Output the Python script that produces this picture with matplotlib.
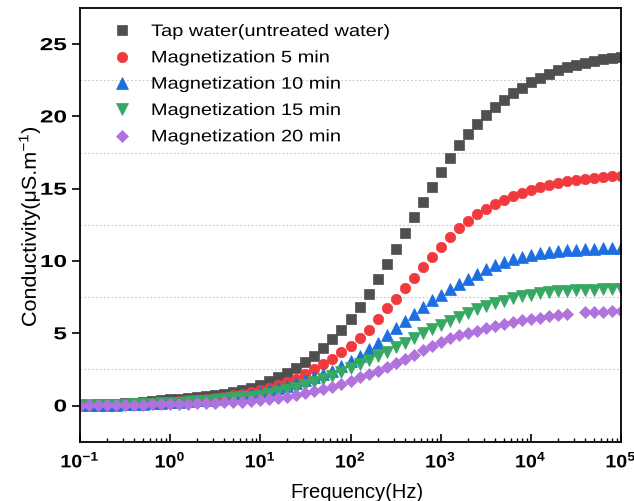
import numpy as np
import matplotlib
matplotlib.use("Agg")
import matplotlib.pyplot as plt
from matplotlib.ticker import FixedLocator, FixedFormatter, LogLocator, NullFormatter
from matplotlib.patheffects import AbstractPathEffect
from matplotlib.transforms import Affine2D

plt.rcParams['font.family'] = ['Liberation Sans', 'DejaVu Sans']
plt.rcParams['mathtext.fontset'] = 'custom'
plt.rcParams['mathtext.rm'] = 'Liberation Sans'
plt.rcParams['mathtext.it'] = 'Liberation Sans:italic'
plt.rcParams['mathtext.bf'] = 'Liberation Sans:bold'

# log10 of frequency (Hz)
log_freq = [-1.0, -0.9, -0.8, -0.7, -0.6, -0.5, -0.4, -0.3, -0.2, -0.1,
            0.0, 0.1, 0.2, 0.3, 0.4, 0.5, 0.6, 0.7, 0.8, 0.9,
            1.0, 1.1, 1.2, 1.3, 1.4, 1.5, 1.6, 1.7, 1.8, 1.9,
            2.0, 2.1, 2.2, 2.3, 2.4, 2.5, 2.6, 2.7, 2.8, 2.9,
            3.0, 3.1, 3.2, 3.3, 3.4, 3.5, 3.6, 3.7, 3.8, 3.9,
            4.0, 4.1, 4.2, 4.3, 4.4, 4.5, 4.6, 4.7, 4.8, 4.9,
            5.0]

tap_water = [0.05, 0.07, 0.09, 0.11, 0.14, 0.17, 0.21, 0.25, 0.30, 0.36,
             0.42, 0.47, 0.52, 0.58, 0.65, 0.73, 0.82, 0.93, 1.05, 1.23,
             1.45, 1.69, 1.96, 2.26, 2.61, 3.00, 3.46, 4.00, 4.60, 5.22,
             6.00, 6.85, 7.75, 8.75, 9.80, 10.85, 11.95, 13.05, 14.10, 15.15,
             16.15, 17.10, 18.00, 18.80, 19.50, 20.10, 20.66, 21.17, 21.63, 22.00,
             22.35, 22.67, 22.95, 23.20, 23.41, 23.58, 23.73, 23.85, 23.95, 24.02,
             24.08]

mag_5 = [0.04, 0.05, 0.06, 0.07, 0.09, 0.11, 0.13, 0.16, 0.19, 0.22,
         0.26, 0.30, 0.35, 0.40, 0.46, 0.53, 0.61, 0.70, 0.80, 0.93,
         1.09, 1.23, 1.39, 1.62, 1.85, 2.15, 2.50, 2.85, 3.23, 3.70,
         4.10, 4.65, 5.25, 5.98, 6.72, 7.39, 8.10, 8.80, 9.55, 10.28,
         11.00, 11.65, 12.25, 12.77, 13.22, 13.62, 13.96, 14.25, 14.50, 14.73,
         14.94, 15.12, 15.28, 15.42, 15.54, 15.63, 15.70, 15.77, 15.82, 15.86,
         15.89]

mag_10 = [0.03, 0.04, 0.05, 0.06, 0.07, 0.09, 0.11, 0.13, 0.16, 0.19,
          0.22, 0.26, 0.30, 0.35, 0.40, 0.46, 0.53, 0.61, 0.70, 0.80,
          0.92, 1.05, 1.20, 1.37, 1.55, 1.75, 1.95, 2.17, 2.42, 2.72,
          3.07, 3.46, 3.88, 4.34, 4.85, 5.36, 5.85, 6.35, 6.81, 7.27,
          7.68, 8.07, 8.43, 8.77, 9.12, 9.42, 9.70, 9.93, 10.11, 10.28,
          10.44, 10.55, 10.62, 10.69, 10.73, 10.78, 10.80, 10.85, 10.87, 10.90,
          10.92]

mag_15 = [0.02, 0.03, 0.04, 0.05, 0.06, 0.07, 0.09, 0.11, 0.13, 0.15,
          0.18, 0.21, 0.25, 0.29, 0.33, 0.38, 0.44, 0.50, 0.56, 0.62,
          0.69, 0.80, 0.93, 1.07, 1.22, 1.40, 1.60, 1.82, 2.06, 2.32,
          2.60, 2.88, 3.15, 3.43, 3.72, 4.04, 4.36, 4.68, 5.00, 5.30,
          5.60, 5.88, 6.14, 6.40, 6.65, 6.88, 7.08, 7.26, 7.42, 7.56,
          7.67, 7.76, 7.84, 7.90, 7.95, 7.98, 8.00, 8.02, 8.03, 8.04,
          8.05]

mag_20 = [0.00, 0.01, 0.02, 0.03, 0.04, 0.05, 0.06, 0.07, 0.08, 0.09,
          0.10, 0.11, 0.13, 0.15, 0.17, 0.19, 0.22, 0.25, 0.28, 0.32,
          0.38, 0.45, 0.53, 0.62, 0.72, 0.84, 0.98, 1.13, 1.30, 1.50,
          1.72, 1.95, 2.18, 2.42, 2.68, 2.94, 3.23, 3.51, 3.81, 4.11,
          4.39, 4.64, 4.86, 5.05, 5.19, 5.36, 5.50, 5.64, 5.77, 5.89,
          6.00, 6.07, 6.19, 6.28, 6.35, np.nan, 6.47, 6.49, 6.50, 6.51,
          6.52]

series_labels = ["Tap water(untreated water)", "Magnetization 5 min",
                 "Magnetization 10 min", "Magnetization 15 min",
                 "Magnetization 20 min"]
series_values = [tap_water, mag_5, mag_10, mag_15, mag_20]
colors = ["#4f4f4f", "#f03a3e", "#1c6fe0", "#37a862", "#b073de"]
markers = ["s", "o", "^", "v", "D"]
msizes = [6.5, 7.5, 8.0, 8.0, 6.3]

xtick_vals = [1e-1, 1e0, 1e1, 1e2, 1e3, 1e4, 1e5]
xtick_labels = [r'$\mathbf{10^{-1}}$', r'$\mathbf{10^{0}}$', r'$\mathbf{10^{1}}$',
                r'$\mathbf{10^{2}}$', r'$\mathbf{10^{3}}$', r'$\mathbf{10^{4}}$',
                r'$\mathbf{10^{5}}$']
ytick_vals = [0, 5, 10, 15, 20, 25]
ygrid_vals = [2.5, 7.5, 12.5, 17.5, 22.5]


class Stretch(AbstractPathEffect):
    """Widen glyphs horizontally (along the baseline), keeping an anchor fixed."""
    def __init__(self, sx, anchor='left'):
        super().__init__()
        self.sx = sx
        self.anchor = anchor

    def draw_path(self, renderer, gc, tpath, affine, rgbFace=None):
        ext = tpath.get_extents()
        if self.anchor == 'left':
            x0 = ext.x0
        elif self.anchor == 'right':
            x0 = ext.x1
        else:
            x0 = 0.5 * (ext.x0 + ext.x1)
        t = Affine2D().translate(-x0, 0).scale(self.sx, 1.0).translate(x0, 0) + affine
        renderer.draw_path(gc, tpath, t, rgbFace)


freq = 10.0 ** np.array(log_freq)

fig = plt.figure(figsize=(6.34, 5.02), dpi=100)
ax = fig.add_axes([80/634, 1-442.7/502, 541/634, 433.7/502])

for vals, lab, c, m, ms in zip(series_values, series_labels, colors, markers, msizes):
    ax.plot(freq, vals, linestyle='none', marker=m, markersize=ms,
            color=c, markeredgecolor=c, markeredgewidth=0.5, label=lab)

ax.set_xscale('log')
ax.set_xlim(1e-1, 1e5)
ax.set_ylim(-2.5, 27.5)

ax.xaxis.set_major_locator(FixedLocator(xtick_vals))
ax.xaxis.set_major_formatter(FixedFormatter(xtick_labels))
ax.xaxis.set_minor_locator(LogLocator(base=10, subs=np.arange(2, 10), numticks=20))
ax.xaxis.set_minor_formatter(NullFormatter())

ax.yaxis.set_major_locator(FixedLocator(ytick_vals))
ax.yaxis.set_minor_locator(FixedLocator(ygrid_vals))
ax.grid(True, which='minor', axis='y', linestyle=(0, (1.5, 2.0)),
        color='#c4c4c4', linewidth=0.8)
ax.grid(False, which='major')

ax.tick_params(axis='x', which='major', direction='in', length=6, width=1.2,
               labelsize=13, pad=7, top=False)
ax.tick_params(axis='x', which='minor', direction='in', length=3.2, width=1.0, top=False)
ax.tick_params(axis='y', which='major', direction='out', length=5.5, width=1.2,
               labelsize=12.5, pad=4, right=False)
ax.tick_params(axis='y', which='minor', length=0, right=False, left=False)

for sp in ax.spines.values():
    sp.set_linewidth(1.3)

xl = ax.set_xlabel("Frequency(Hz)", fontsize=14.5)
yl = ax.set_ylabel("Conductivity(μS.m$^{-1}$)", fontsize=14.5)
ax.yaxis.set_label_coords(-0.07, 0.496)
ax.xaxis.set_label_coords(0.512, -0.092)
yl.set_path_effects([Stretch(1.07, 'center')])

leg = ax.legend(loc='upper left', bbox_to_anchor=(29.5/541, 1-16.0/433.7),
                frameon=False, fontsize=12, handlelength=1.5, handletextpad=1.0,
                borderaxespad=0, borderpad=0, labelspacing=0.68)
for t in leg.get_texts():
    t.set_path_effects([Stretch(1.2, 'left')])

fig.canvas.draw()
for tk in ax.xaxis.get_major_ticks():
    tk.label1.set_path_effects([Stretch(1.09, 'center')])
for tk in ax.yaxis.get_major_ticks():
    tk.label1.set_fontweight('bold')
    tk.label1.set_path_effects([Stretch(1.4, 'right')])

fig.savefig("out.png", dpi=100)
